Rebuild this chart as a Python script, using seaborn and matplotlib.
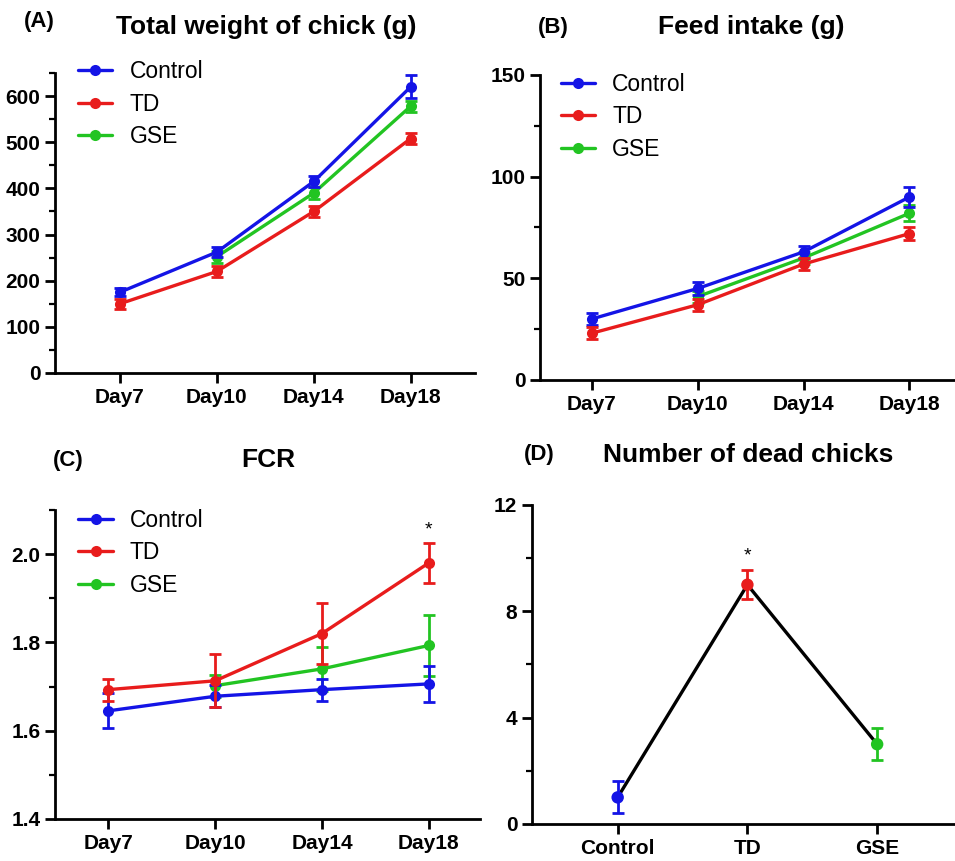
import numpy as np
import pandas as pd
import matplotlib
matplotlib.use('Agg')
import matplotlib.pyplot as plt
from matplotlib.ticker import MultipleLocator, FormatStrFormatter
import seaborn as sns

# Data (mean and error); GSE has no Day7 point
days = ['Day7', 'Day10', 'Day14', 'Day18']
groups = ['Control', 'TD', 'GSE']
draw_order = ['GSE', 'Control', 'TD']

weight_mean = {'Control': [175, 262, 415, 620], 'TD': [150, 220, 350, 508], 'GSE': [np.nan, 252, 390, 578]}
weight_err = {'Control': [9, 10, 11, 25], 'TD': [11, 11, 11, 11], 'GSE': [np.nan, 13, 13, 12]}

feed_mean = {'Control': [30, 45, 63, 90], 'TD': [23, 37, 57, 72], 'GSE': [np.nan, 41, 60, 82]}
feed_err = {'Control': [3, 3, 3, 5], 'TD': [3, 3, 3, 3], 'GSE': [np.nan, 3, 3, 4]}

fcr_mean = {'Control': [1.645, 1.678, 1.693, 1.706], 'TD': [1.693, 1.713, 1.820, 1.980], 'GSE': [np.nan, 1.702, 1.740, 1.793]}
fcr_err = {'Control': [0.040, 0.025, 0.025, 0.040], 'TD': [0.025, 0.060, 0.070, 0.045], 'GSE': [np.nan, 0.025, 0.050, 0.068]}

dead_mean = [1, 9, 3]
dead_err = [0.6, 0.55, 0.6]

palette = {'Control': '#1414e6', 'TD': '#e81c1c', 'GSE': '#22c422'}

sns.set_style('ticks')
plt.rcParams['font.family'] = ['Liberation Sans', 'DejaVu Sans']
plt.rcParams['axes.linewidth'] = 2.0
for key in ['text.color', 'axes.labelcolor', 'xtick.color', 'ytick.color', 'axes.edgecolor']:
    plt.rcParams[key] = 'black'

fig = plt.figure(figsize=(9.55, 8.61), dpi=100)


def style_axis(ax, major, minor, ylim, xlim, fmt=None):
    sns.despine(ax=ax)
    ax.set_ylim(*ylim)
    ax.set_xlim(*xlim)
    ax.yaxis.set_major_locator(MultipleLocator(major))
    ax.yaxis.set_minor_locator(MultipleLocator(minor))
    if fmt:
        ax.yaxis.set_major_formatter(FormatStrFormatter(fmt))
    ax.tick_params(axis='both', which='major', length=7, width=2, labelsize=15, direction='out')
    ax.tick_params(axis='y', which='minor', length=4, width=1.6)
    ax.tick_params(axis='x', which='minor', length=0)
    for lab in ax.get_xticklabels() + ax.get_yticklabels():
        lab.set_fontweight('bold')
    ax.set_xlabel('')
    ax.set_ylabel('')


def group_panel(ax, means, errs, legend_anchor):
    rows = []
    for g in draw_order:
        for i, d in enumerate(days):
            rows.append({'x': i, 'day': d, 'group': g, 'value': means[g][i], 'err': errs[g][i]})
    df = pd.DataFrame(rows)
    for k, g in enumerate(draw_order):
        sub = df[df['group'] == g].dropna()
        ax.errorbar(sub['x'], sub['value'], yerr=sub['err'], fmt='none', ecolor=palette[g],
                    elinewidth=2, capsize=4, capthick=2, zorder=2 + k)
        sns.lineplot(data=sub, x='x', y='value', color=palette[g], label=g,
                     marker='o', markersize=8, markeredgewidth=0, linewidth=2.4, sort=False,
                     ax=ax, zorder=2.5 + k)
    ax.set_xticks(range(len(days)))
    ax.set_xticklabels(days)
    handles, labels = ax.get_legend_handles_labels()
    lookup = dict(zip(labels, handles))
    ax.legend([lookup[g] for g in groups], groups, loc='upper left', bbox_to_anchor=legend_anchor,
              frameon=False, fontsize=16.5, handlelength=1.5, handletextpad=0.75, labelspacing=0.42,
              borderpad=0, borderaxespad=0)


# (A) Total weight
axA = fig.add_axes([0.0576, 0.5668, 0.4394, 0.3484])
group_panel(axA, weight_mean, weight_err, (0.055, 1.043))
style_axis(axA, 100, 50, (0, 650), (-0.67, 3.66))

# (B) Feed intake
axB = fig.add_axes([0.5654, 0.5587, 0.4346, 0.3542])
group_panel(axB, feed_mean, feed_err, (0.05, 1.008))
style_axis(axB, 50, 25, (0, 150), (-0.49, 3.43))

# (C) FCR
axC = fig.add_axes([0.0576, 0.0488, 0.4450, 0.3589])
group_panel(axC, fcr_mean, fcr_err, (0.055, 1.004))
style_axis(axC, 0.2, 0.1, (1.4, 2.1), (-0.5, 3.48), fmt='%.1f')
axC.text(3, fcr_mean['TD'][3] + fcr_err['TD'][3] + 0.03, '*', ha='center', va='center', fontsize=14)

# (D) Number of dead chicks
axD = fig.add_axes([0.5571, 0.0430, 0.4429, 0.3705])
dead_df = pd.DataFrame({'x': range(len(groups)), 'group': groups, 'value': dead_mean, 'err': dead_err})
sns.lineplot(data=dead_df, x='x', y='value', color='black', linewidth=2.4, sort=False, ax=axD, zorder=2)
for _, r in dead_df.iterrows():
    axD.errorbar(r['x'], r['value'], yerr=r['err'], fmt='none', ecolor=palette[r['group']],
                 elinewidth=2, capsize=4, capthick=2, zorder=3)
sns.scatterplot(data=dead_df, x='x', y='value', hue='group', palette=palette, s=80,
                linewidth=0, legend=False, ax=axD, zorder=4)
axD.set_xticks(range(len(groups)))
axD.set_xticklabels(groups)
style_axis(axD, 4, 2, (0, 12), (-0.66, 2.6))
axD.text(1, dead_mean[1] + dead_err[1] + 0.55, '*', ha='center', va='center', fontsize=14)

# Titles and panel labels
fig.text(0.279, 0.9686, 'Total weight of chick (g)', ha='center', va='center', fontsize=19, fontweight='bold')
fig.text(0.787, 0.9686, 'Feed intake (g)', ha='center', va='center', fontsize=19, fontweight='bold')
fig.text(0.281, 0.4657, 'FCR', ha='center', va='center', fontsize=19, fontweight='bold')
fig.text(0.783, 0.4715, 'Number of dead chicks', ha='center', va='center', fontsize=19, fontweight='bold')
fig.text(0.041, 0.9745, '(A)', ha='center', va='center', fontsize=16, fontweight='bold')
fig.text(0.579, 0.9686, '(B)', ha='center', va='center', fontsize=16, fontweight='bold')
fig.text(0.071, 0.4646, '(C)', ha='center', va='center', fontsize=16, fontweight='bold')
fig.text(0.565, 0.4727, '(D)', ha='center', va='center', fontsize=16, fontweight='bold')

plt.savefig('out.png', dpi=100)
